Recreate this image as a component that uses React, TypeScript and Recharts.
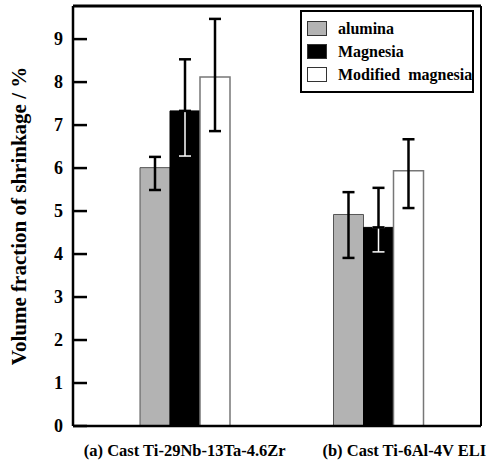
import React from "react";
import {
  BarChart,
  Bar,
  XAxis,
  YAxis,
  ErrorBar,
  Legend,
  ReferenceLine,
} from "recharts";

// alloys on the x axis
const alloys = ["(a) Cast Ti-29Nb-13Ta-4.6Zr", "(b) Cast Ti-6Al-4V ELI"];

// mean volume shrinkage (%) per mould material
const alumina = [6.01, 4.92];
const magnesia = [7.33, 4.62];
const modMagnesia = [8.12, 5.94];

// error bar ends (low, high)
const aluminaLo = [5.49, 3.91];
const aluminaHi = [6.26, 5.44];
const magnesiaLo = [6.28, 4.05];
const magnesiaHi = [8.53, 5.54];
const modLo = [6.86, 5.07];
const modHi = [9.47, 6.67];

const yTicks = [0, 1, 2, 3, 4, 5, 6, 7, 8, 9];
const yMax = 9.77;

const series = [
  { key: "alumina", name: "alumina", fill: "#b3b3b3", stroke: "#555" },
  { key: "magnesia", name: "Magnesia", fill: "#000", stroke: "#000" },
  { key: "modified", name: "Modified  magnesia", fill: "#fff", stroke: "#777" },
];

const FONT = "'Liberation Serif', 'Times New Roman', serif";

const data = alloys.map((name, i) => ({
  name,
  alumina: alumina[i],
  magnesia: magnesia[i],
  modified: modMagnesia[i],
  alErr: [alumina[i] - aluminaLo[i], aluminaHi[i] - alumina[i]],
  mgErrLow: [magnesia[i] - magnesiaLo[i], 0],
  mgErrHigh: [0, magnesiaHi[i] - magnesia[i]],
  modErr: [modMagnesia[i] - modLo[i], modHi[i] - modMagnesia[i]],
}));

const YTick = ({ x, y, payload }: any) => (
  <g>
    <line x1={x + 10} x2={x + 24} y1={y} y2={y} stroke="#000" strokeWidth={2.5} />
    <text
      x={x}
      y={y}
      dy={6}
      textAnchor="end"
      fontFamily={FONT}
      fontWeight="bold"
      fontSize={18}
      fill="#000"
    >
      {payload.value}
    </text>
  </g>
);

const labelShift = [0, 26];

const XTick = ({ x, y, payload, index }: any) => (
  <text
    x={x + (labelShift[index] || 0)}
    y={y + 22}
    textAnchor="middle"
    fontFamily={FONT}
    fontWeight="bold"
    fontSize={16.5}
    fill="#000"
  >
    {payload.value}
  </text>
);

const YTitle = ({ viewBox }: any) => {
  const cx = viewBox.x + 19;
  const cy = viewBox.y + viewBox.height / 2;
  return (
    <text
      x={cx}
      y={cy}
      transform={`rotate(-90, ${cx}, ${cy})`}
      textAnchor="middle"
      dominantBaseline="central"
      fontFamily={FONT}
      fontWeight="bold"
      fontSize={21}
      fill="#000"
    >
      Volume fraction of shrinkage / %
    </text>
  );
};

const LegendBox = () => (
  <div
    style={{
      border: "2px solid #000",
      background: "#fff",
      padding: "5px 0 5px 5px",
      width: 174,
      boxSizing: "border-box",
    }}
  >
    {series.map((s) => (
      <div
        key={s.key}
        style={{ display: "flex", alignItems: "center", height: 23 }}
      >
        <span
          style={{
            display: "inline-block",
            width: 18,
            height: 13,
            background: s.fill,
            border: "1px solid #333",
            marginRight: 11,
            flexShrink: 0,
          }}
        />
        <span
          style={{
            fontFamily: FONT,
            fontWeight: "bold",
            fontSize: 16,
            whiteSpace: "pre",
            color: "#000",
          }}
        >
          {s.name}
        </span>
      </div>
    ))}
  </div>
);

export default function App() {
  return (
    <div style={{ position: "absolute", left: 0, top: 0, background: "#fff" }}>
      <BarChart
        width={488}
        height={463}
        data={data}
        margin={{ top: 6, right: 7, left: 0, bottom: 0 }}
        barGap={0}
        barCategoryGap={52}
      >
        <XAxis
          dataKey="name"
          xAxisId="cat"
          height={37}
          padding={{ left: 15, right: 6 }}
          tickLine={false}
          axisLine={{ stroke: "#000", strokeWidth: 2.5 }}
          tick={<XTick />}
          interval={0}
        />
        <XAxis
          xAxisId="frame"
          type="number"
          domain={[0, 2]}
          padding={{ left: 6, right: 0 }}
          hide
        />
        <YAxis
          width={73}
          domain={[0, yMax]}
          ticks={yTicks}
          allowDataOverflow
          tickSize={0}
          tickMargin={10}
          tickLine={false}
          axisLine={{ stroke: "#000", strokeWidth: 2.5 }}
          tick={<YTick />}
          label={<YTitle />}
        />
        <ReferenceLine
          y={yMax}
          xAxisId="cat"
          stroke="#000"
          strokeWidth={3}
          ifOverflow="visible"
        />
        <ReferenceLine
          x={2}
          xAxisId="frame"
          stroke="#000"
          strokeWidth={2.5}
          ifOverflow="visible"
        />
        <ReferenceLine
          x={1}
          xAxisId="frame"
          stroke="#000"
          strokeWidth={2}
          ifOverflow="visible"
        />
        <Legend
          verticalAlign="middle"
          align="center"
          layout="horizontal"
          content={<LegendBox />}
          wrapperStyle={{ top: 10, left: 300, width: 174 }}
        />
        <Bar
          xAxisId="cat"
          dataKey="alumina"
          name="alumina"
          fill="#b3b3b3"
          stroke="#555"
          strokeWidth={1}
          isAnimationActive={false}
        >
          <ErrorBar
            dataKey="alErr"
            width={6}
            stroke="#000"
            strokeWidth={2.5}
            direction="y"
            isAnimationActive={false}
          />
        </Bar>
        <Bar
          xAxisId="cat"
          dataKey="magnesia"
          name="Magnesia"
          fill="#000"
          stroke="#000"
          strokeWidth={1}
          isAnimationActive={false}
        >
          <ErrorBar
            dataKey="mgErrLow"
            width={6}
            stroke="#fff"
            strokeWidth={1.5}
            direction="y"
            isAnimationActive={false}
          />
          <ErrorBar
            dataKey="mgErrHigh"
            width={6}
            stroke="#000"
            strokeWidth={2.5}
            direction="y"
            isAnimationActive={false}
          />
        </Bar>
        <Bar
          xAxisId="cat"
          dataKey="modified"
          name="Modified  magnesia"
          fill="#fff"
          stroke="#777"
          strokeWidth={1.5}
          isAnimationActive={false}
        >
          <ErrorBar
            dataKey="modErr"
            width={6}
            stroke="#000"
            strokeWidth={2.5}
            direction="y"
            isAnimationActive={false}
          />
        </Bar>
      </BarChart>
    </div>
  );
}
